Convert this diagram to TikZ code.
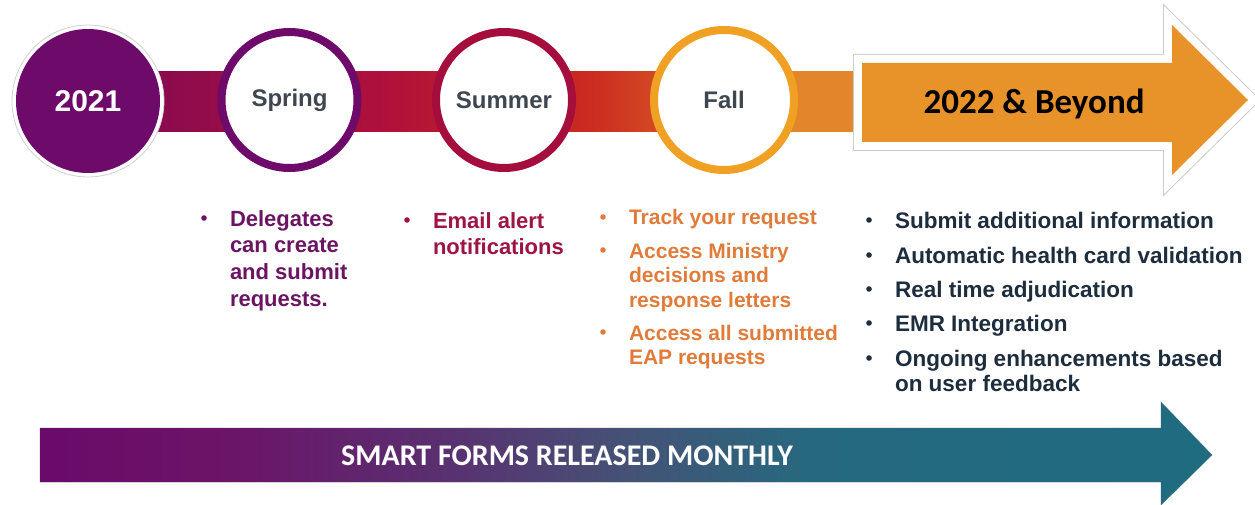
\documentclass[tikz,border=0pt]{standalone}
\usepackage{fontspec}
\setmainfont{Liberation Sans}
\newfontfamily\carl{Carlito}
\definecolor{cPurple}{HTML}{6E0A6A}
\definecolor{cCrimson}{HTML}{A50E3C}
\definecolor{cFall}{HTML}{F0A023}
\definecolor{cLabel}{HTML}{3F4650}
\definecolor{cArrow}{HTML}{E8922A}
\definecolor{tSpring}{HTML}{6B1462}
\definecolor{tSummer}{HTML}{9E1442}
\definecolor{tFall}{HTML}{E07B39}
\definecolor{tRight}{HTML}{1E2D3D}
\definecolor{bar1}{HTML}{8A0B4F}
\definecolor{bar2}{HTML}{AE103B}
\definecolor{bar3}{HTML}{CB2B20}
\definecolor{bar4}{HTML}{E3852A}
\definecolor{low1}{HTML}{6A0A6A}
\definecolor{low2}{HTML}{6C1468}
\definecolor{low3}{HTML}{5A2F70}
\definecolor{low4}{HTML}{455276}
\definecolor{low5}{HTML}{26697F}
\definecolor{low6}{HTML}{1F6B80}
% the path's bounding box maps onto 25bp..75bp of the shading
\pgfdeclarehorizontalshading{barshade}{100bp}{color(0bp)=(bar1); color(25bp)=(bar1); color(41bp)=(bar2); color(56bp)=(bar3); color(70bp)=(bar4); color(100bp)=(bar4)}
\pgfdeclarehorizontalshading{lowshade}{100bp}{color(0bp)=(low1); color(25bp)=(low1); color(33bp)=(low2); color(42bp)=(low3); color(50bp)=(low4); color(58bp)=(low5); color(75bp)=(low6); color(100bp)=(low6)}
\tikzset{
  x=1pt, y=-1pt,
  ring/.style={circle, fill=white, line width=8pt, minimum size=136pt, inner sep=0pt,
    font=\fontsize{24}{28}\selectfont\bfseries, text=cLabel},
  item/.style={anchor=base west, inner sep=0pt, outer sep=0pt},
}
\newcommand{\itm}[4]{\parbox[t]{#1}{\raggedright\fontsize{#2}{#3}\selectfont\bfseries #4}}
\begin{document}
\begin{tikzpicture}
\useasboundingbox (0,0) rectangle (1255,505);
% timeline bar
\shade[shading=barshade] (150,72) rectangle (860,132);
% 2021 circle
\filldraw[fill=white, draw=black!18, line width=0.8pt] (88,101) circle (76);
\node[circle, fill=cPurple, minimum size=144pt, inner sep=0pt, text=white,
  font=\fontsize{30}{34}\selectfont\bfseries] (y2021) at (88,101) {2021};
% season circles
\node[ring, draw=cPurple] (spring) at (289.5,100) {Spring};
\node[ring, draw=cCrimson] (summer) at (504,100) {Summer};
\node[ring, draw=cFall, minimum size=140pt] (fall) at (724,100) {Fall};
% big arrow
\def\bigarrow{(862,63) -- (1172,63) -- (1172,25) -- (1248,100) -- (1172,175) -- (1172,142) -- (862,142) -- cycle}
\draw[black!20, line width=18pt, line join=miter] \bigarrow;
\draw[white, line width=16pt, line join=miter] \bigarrow;
\fill[cArrow] \bigarrow;
\node[font=\carl\fontsize{35}{40}\selectfont\bfseries, text=black] (beyond) at (1034,104) {2022 \& Beyond};
% bullet items
\node[item, text=tSpring] (sp1) at (230,226) {\itm{160pt}{22}{26.7}{Delegates\\can create\\and submit\\requests.}};
\node[item, text=tSummer] (su1) at (433,228) {\itm{160pt}{22}{26}{Email alert\\notifications}};
\node[item, text=tFall] (fa1) at (629,225) {\itm{230pt}{21}{25}{Track your request}};
\node[item, text=tFall] (fa2) at (629,258) {\itm{230pt}{21}{24.5}{Access Ministry\\decisions and\\response letters}};
\node[item, text=tFall] (fa3) at (629,340) {\itm{230pt}{21}{24.5}{Access all submitted\\EAP requests}};
\node[item, text=tRight] (r1) at (895,228) {\itm{360pt}{22.5}{25}{Submit additional information}};
\node[item, text=tRight] (r2) at (895,263) {\itm{360pt}{22.5}{25}{Automatic health card validation}};
\node[item, text=tRight] (r3) at (895,297) {\itm{360pt}{22.5}{25}{Real time adjudication}};
\node[item, text=tRight] (r4) at (895,331) {\itm{360pt}{22.5}{25}{EMR Integration}};
\node[item, text=tRight] (r5) at (895,366) {\itm{360pt}{22.5}{25}{Ongoing enhancements based\\on user feedback}};
\foreach \n/\c in {sp1/tSpring, su1/tSummer, fa1/tFall, fa2/tFall, fa3/tFall, r1/tRight, r2/tRight, r3/tRight, r4/tRight, r5/tRight}
  \fill[\c] (\n.base west) ++(-26,-8) circle (2.8);
% bottom arrow
\def\lowarrow{(40,428) -- (1161,428) -- (1161,402) -- (1212,455) -- (1161,505) -- (1161,482) -- (40,482) -- cycle}
\draw[black!25, line width=0.8pt] \lowarrow;
\shade[shading=lowshade] \lowarrow;
\node[font=\carl\fontsize{30}{34}\selectfont\bfseries, text=white] (smart) at (567,456) {SMART FORMS RELEASED MONTHLY};
\end{tikzpicture}
\end{document}
